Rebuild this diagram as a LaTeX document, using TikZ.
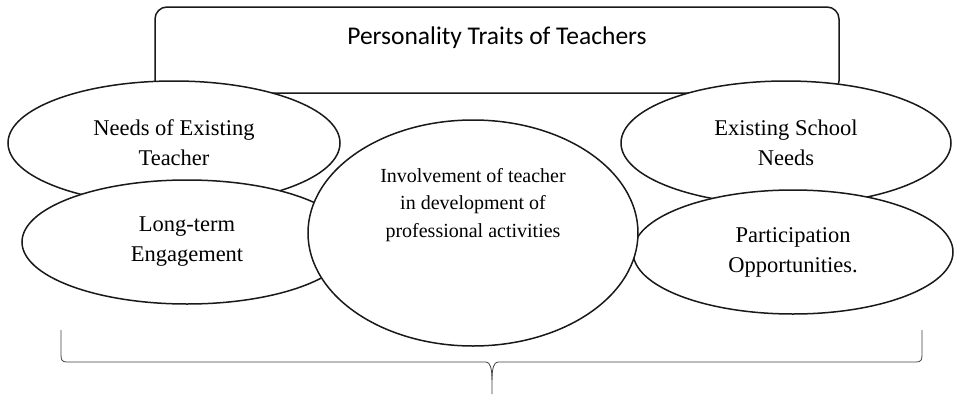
\documentclass[tikz,border=0pt]{standalone}
\usepackage{fontspec}
\setmainfont{Liberation Serif}
\newfontfamily\titlefont{Carlito}
\usetikzlibrary{shapes.geometric}
\begin{document}
\begin{tikzpicture}[x=1pt,y=-1pt,
  oval/.style={ellipse,draw=black!90,line width=1.5pt,fill=white,inner sep=0pt,align=center,
    font=\fontsize{22.5}{30}\selectfont},
  frame/.style={draw=black!90,line width=1.5pt,rounded corners=12pt,fill=white,inner sep=0pt},
  bracepath/.style={draw=black!75,line width=0.8pt}]
\useasboundingbox (0,0) rectangle (954,394);
\node[frame,minimum width=684pt,minimum height=86pt] (box) at (497,50) {};
\node[font=\titlefont\fontsize{25.5}{30}\selectfont] (title) at (497,38) {Personality Traits of Teachers};
\node[oval,minimum width=330pt,minimum height=124pt] (esn) at (786,143) {Existing School\\Needs};
\node[oval,minimum width=332pt,minimum height=124pt] (net) at (174,143) {Needs of Existing\\Teacher};
\node[oval,minimum width=330pt,minimum height=124pt] (lte) at (187,242) {Long-term\\Engagement};
\node[oval,minimum width=320pt,minimum height=124pt] (po) at (793,252) {Participation\\Opportunities.};
\node[oval,minimum width=330pt,minimum height=226pt] (inv) at (473,233) {};
\node[align=center,font=\fontsize{20}{27.5}\selectfont] (invtext) at (473,205)
  {Involvement of teacher\\in development of\\professional activities};
\coordinate (bl) at (61,330);
\coordinate (br) at (922,330);
\coordinate (tip) at (492,394);
\path[bracepath] (bl) -- (61,355) .. controls (61,360) and (62,362) .. (67,362) -- (486,362)
  .. controls (490,362) and (492,368) .. (492,380) -- (tip);
\path[bracepath] (br) -- (922,355) .. controls (922,360) and (921,362) .. (916,362) -- (498,362)
  .. controls (494,362) and (492,368) .. (492,380);
\end{tikzpicture}
\end{document}
